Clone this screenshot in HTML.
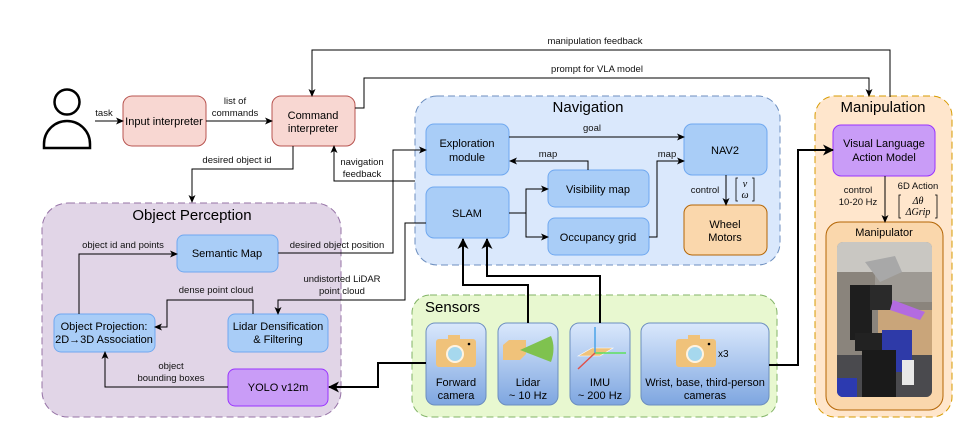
<!DOCTYPE html>
<html><head><meta charset="utf-8"><style>
html,body{margin:0;padding:0;background:#fff;}
svg{display:block;font-family:"Liberation Sans",sans-serif;}
</style></head><body>
<svg width="967" height="432" viewBox="0 0 967 432" xmlns="http://www.w3.org/2000/svg">
<defs>
<marker id="a" markerWidth="8" markerHeight="8" refX="7" refY="4" orient="auto" markerUnits="userSpaceOnUse"><path d="M0,0.5 L8,4 L0,7.5 L2,4z" fill="#000"/></marker>
<marker id="b" markerWidth="12" markerHeight="12" refX="10" refY="6" orient="auto" markerUnits="userSpaceOnUse"><path d="M0,0.5 L11,6 L0,11.5 L3,6z" fill="#000"/></marker>
<linearGradient id="g" x1="0" y1="0" x2="0" y2="1"><stop offset="0" stop-color="#dae8fc"/><stop offset="1" stop-color="#7ea6e0"/></linearGradient>
</defs>

<rect x="415" y="96" width="365" height="169" rx="22" fill="#dae8fc" stroke="#6c8ebf" stroke-dasharray="7 4"/>
<text x="588" y="112" font-size="15" text-anchor="middle">Navigation</text>
<rect x="42" y="203" width="299" height="214" rx="26" fill="#e1d5e7" stroke="#9673a6" stroke-dasharray="7 4"/>
<text x="192" y="220" font-size="15" text-anchor="middle">Object Perception</text>
<rect x="412" y="295" width="365" height="122" rx="18" fill="#e8f8d0" stroke="#82b366" stroke-dasharray="7 4"/>
<text x="425" y="312" font-size="15">Sensors</text>
<rect x="815" y="96" width="137" height="321" rx="20" fill="#ffe6cc" stroke="#d79b00" stroke-dasharray="7 4"/>
<text x="883" y="112" font-size="15" text-anchor="middle">Manipulation</text>

<circle cx="67" cy="102" r="12.5" fill="none" stroke="#000" stroke-width="2.5"/>
<path d="M44,148 L44,144 A23,23 0 0 1 90,144 L90,148 Z" fill="none" stroke="#000" stroke-width="2.5"/>

<g font-size="11" text-anchor="middle">
<rect x="123" y="96" width="83" height="50" rx="9" fill="#f8d7d2" stroke="#b85450"/>
<text x="164" y="125">Input interpreter</text>
<rect x="272" y="96" width="83" height="50" rx="9" fill="#f8d7d2" stroke="#b85450"/>
<text x="313" y="119">Command</text><text x="313" y="132">interpreter</text>

<rect x="426" y="124" width="83" height="51" rx="8" fill="#a9cdf7" stroke="#6fa8f0"/>
<text x="467" y="147">Exploration</text><text x="467" y="161">module</text>
<rect x="426" y="187" width="83" height="51" rx="8" fill="#a9cdf7" stroke="#6fa8f0"/>
<text x="467" y="217">SLAM</text>
<rect x="548" y="170" width="101" height="37" rx="7" fill="#a9cdf7" stroke="#6fa8f0"/>
<text x="598" y="193">Visibility map</text>
<rect x="548" y="218" width="101" height="37" rx="7" fill="#a9cdf7" stroke="#6fa8f0"/>
<text x="598" y="241">Occupancy grid</text>
<rect x="684" y="124" width="83" height="51" rx="8" fill="#a9cdf7" stroke="#6fa8f0"/>
<text x="725" y="154">NAV2</text>
<rect x="684" y="205" width="83" height="50" rx="8" fill="#fad7ac" stroke="#b46504"/>
<text x="725" y="228">Wheel</text><text x="725" y="241">Motors</text>

<rect x="177" y="235" width="101" height="37" rx="7" fill="#a9cdf7" stroke="#6fa8f0"/>
<text x="227" y="257">Semantic Map</text>
<rect x="54" y="314" width="101" height="38" rx="7" fill="#a9cdf7" stroke="#6fa8f0"/>
<text x="104" y="330">Object Projection:</text><text x="104" y="343">2D→3D Association</text>
<rect x="228" y="314" width="100" height="38" rx="7" fill="#a9cdf7" stroke="#6fa8f0"/>
<text x="278" y="330">Lidar Densification</text><text x="278" y="343">&amp; Filtering</text>
<rect x="228" y="369" width="100" height="37" rx="7" fill="#c99cf7" stroke="#9933ff"/>
<text x="278" y="391">YOLO v12m</text>

<rect x="833" y="125" width="102" height="51" rx="8" fill="#c99cf7" stroke="#9933ff"/>
<text x="884" y="147">Visual Language</text><text x="884" y="161">Action Model</text>
<rect x="826" y="222" width="117" height="188" rx="14" fill="#fad7ac" stroke="#b46504"/>
<text x="884" y="236">Manipulator</text>

<rect x="426" y="323" width="60" height="82" rx="9" fill="url(#g)" stroke="#6c8ebf"/>
<text x="456" y="386">Forward</text><text x="456" y="399">camera</text>
<rect x="498" y="323" width="60" height="82" rx="9" fill="url(#g)" stroke="#6c8ebf"/>
<text x="528" y="386">Lidar</text><text x="528" y="399">~ 10 Hz</text>
<rect x="570" y="323" width="60" height="82" rx="9" fill="url(#g)" stroke="#6c8ebf"/>
<text x="600" y="386">IMU</text><text x="600" y="399">~ 200 Hz</text>
<rect x="641" y="323" width="128" height="82" rx="9" fill="url(#g)" stroke="#6c8ebf"/>
<text x="705" y="386">Wrist, base, third-person</text><text x="705" y="399">cameras</text>
</g>

<g>
<rect x="436" y="339" width="40" height="28" rx="3" fill="#f0c27a"/><rect x="448" y="335" width="12" height="5" fill="#f0c27a"/>
<circle cx="455" cy="354" r="9" fill="#fff3e0"/><circle cx="455" cy="354" r="7" fill="#a6d8ee"/><circle cx="469" cy="344" r="1.3" fill="#000"/>
<rect x="676" y="339" width="40" height="28" rx="3" fill="#f0c27a"/><rect x="688" y="335" width="12" height="5" fill="#f0c27a"/>
<circle cx="695" cy="354" r="9" fill="#fff3e0"/><circle cx="695" cy="354" r="7" fill="#a6d8ee"/><circle cx="709" cy="344" r="1.3" fill="#000"/>
<text x="718" y="357" font-size="10">x3</text>
<path d="M503,345 L509,340 L526,340 L526,354 L520,360 L503,360Z" fill="#f0c27a"/>
<path d="M520,350 L551,336 Q556,348 551,362 Z" fill="#7fc24f"/>
<path d="M578,356 L592,348 L613,348 L600,356Z" fill="#f0c27a" stroke="#fff" stroke-width="0.6"/>
<line x1="595" y1="327" x2="595" y2="353" stroke="#4aa3e8" stroke-width="1.5"/>
<line x1="595" y1="353" x2="626" y2="353" stroke="#5ee05e" stroke-width="1.5"/>
<line x1="595" y1="353" x2="578" y2="369" stroke="#e0504a" stroke-width="1.5"/>
</g>

<!-- photo -->
<clipPath id="pc"><rect x="837" y="242" width="95" height="155" rx="6"/></clipPath>
<g clip-path="url(#pc)">
<rect x="837" y="242" width="95" height="155" fill="#8a847c"/>
<rect x="837" y="242" width="95" height="30" fill="#c9c7c2"/>
<rect x="875" y="272" width="57" height="30" fill="#9e9a94"/>
<rect x="878" y="310" width="54" height="50" fill="#c9a57a"/>
<rect x="837" y="355" width="95" height="42" fill="#4a4a4e"/>
<rect x="850" y="285" width="22" height="55" fill="#1e1e1e"/>
<rect x="870" y="285" width="22" height="25" fill="#2a2a2a"/>
<rect x="855" y="333" width="50" height="18" fill="#222"/>
<rect x="882" y="330" width="30" height="42" fill="#2e3aa8"/>
<rect x="862" y="350" width="34" height="47" fill="#1a1a1a"/>
<path d="M893,300 L925,312 L920,320 L890,310Z" fill="#b36be0"/>
<path d="M865,262 L895,256 L902,272 L880,282Z" fill="#a8a8a8"/>
<rect x="902" y="360" width="12" height="25" fill="#e8e8e8"/>
<rect x="837" y="378" width="20" height="19" fill="#2c3ab0"/>
</g>

<g stroke="#000" fill="none" stroke-width="1">
<line x1="95" y1="121" x2="123" y2="121" marker-end="url(#a)"/>
<line x1="206" y1="121" x2="272" y2="121" marker-end="url(#a)"/>
<polyline points="890,97 890,50 312,50 312,96" marker-end="url(#a)"/>
<polyline points="355,108 364,108 364,78 869,78 869,96" marker-end="url(#a)"/>
<polyline points="293,146 293,169 192,169 192,202" marker-end="url(#a)"/>
<polyline points="415,181 334,181 334,146" marker-end="url(#a)"/>
<line x1="509" y1="137" x2="684" y2="137" marker-end="url(#a)"/>
<polyline points="588,170 588,161 510,161" marker-end="url(#a)"/>
<polyline points="509,213 526,213 526,189 548,189" marker-end="url(#a)"/>
<polyline points="526,213 526,237 548,237" marker-end="url(#a)"/>
<polyline points="649,237 657,237 657,161 684,161" marker-end="url(#a)"/>
<line x1="726" y1="175" x2="726" y2="205" marker-end="url(#a)"/>
<polyline points="278,253 393,253 393,150 426,150" marker-end="url(#a)"/>
<polyline points="426,223 405,223 405,300 278,300 278,314" marker-end="url(#a)"/>
<polyline points="79,314 79,254 177,254" marker-end="url(#a)"/>
<polyline points="253,314 253,300 167,300 167,327 155,327" marker-end="url(#a)"/>
<polyline points="228,387 105,387 105,352" marker-end="url(#a)"/>
<line x1="885" y1="176" x2="885" y2="222" marker-end="url(#a)"/>
</g>
<g stroke="#000" fill="none" stroke-width="2">
<polyline points="426,363 378,363 378,387 329,387" marker-end="url(#b)"/>
<polyline points="528,323 528,285 463,285 463,239" marker-end="url(#b)"/>
<polyline points="600,323 600,276 487,276 487,239" marker-end="url(#b)"/>
<polyline points="769,365 798,365 798,150 833,150" marker-end="url(#b)"/>
</g>

<g font-size="9.5" text-anchor="middle" fill="#111">
<text x="104" y="116">task</text>
<text x="235" y="104">list of</text><text x="235" y="116">commands</text>
<text x="595" y="44">manipulation feedback</text>
<text x="597" y="72">prompt for VLA model</text>
<text x="237" y="163">desired object id</text>
<text x="362" y="165">navigation</text><text x="362" y="177">feedback</text>
<text x="592" y="131">goal</text>
<text x="548" y="157">map</text>
<text x="667" y="157">map</text>
<text x="705" y="193">control</text>
<text x="123" y="248">object id and points</text>
<text x="337" y="248">desired object position</text>
<text x="342" y="282">undistorted LiDAR</text><text x="342" y="294">point cloud</text>
<text x="216" y="293">dense point cloud</text>
<text x="171" y="369">object</text><text x="171" y="381">bounding boxes</text>
<text x="858" y="193">control</text><text x="858" y="205">10-20 Hz</text>
<text x="918" y="189">6D Action</text>
</g>
<g font-size="10" font-family="Liberation Serif,serif" font-style="italic" text-anchor="middle">
<text x="745" y="187">v</text><text x="745" y="198">ω</text>
<path d="M738,178 h-2 v23 h2 M752,178 h2 v23 h-2" stroke="#000" fill="none" stroke-width="0.8"/>
<text x="918" y="204">Δθ</text><text x="918" y="215">ΔGrip</text>
<path d="M901,195 h-2 v23 h2 M935,195 h2 v23 h-2" stroke="#000" fill="none" stroke-width="0.8"/>
</g>
</svg>
</body></html>
